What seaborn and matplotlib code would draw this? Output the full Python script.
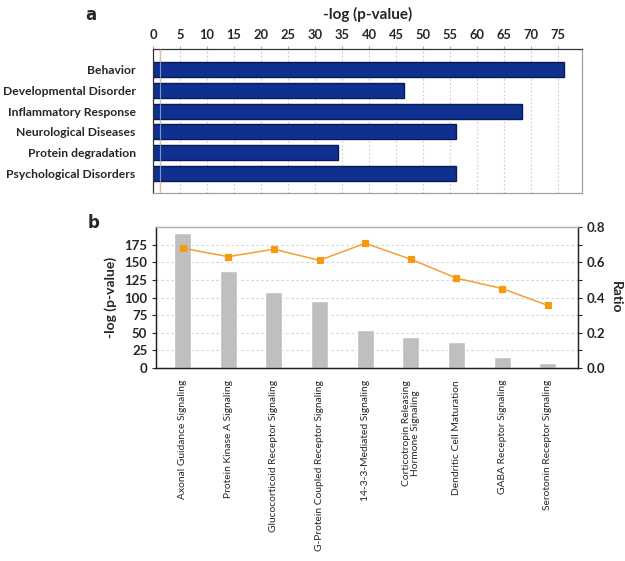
import numpy as np
import pandas as pd
import matplotlib
matplotlib.use("Agg")
import matplotlib.pyplot as plt
from matplotlib.ticker import MultipleLocator, FormatStrFormatter
import seaborn as sns

# painel a: categorias de doenças
disease_cats = ["Behavior", "Developmental Disorder", "Inflammatory Response",
                "Neurological Diseases", "Protein degradation", "Psychological Disorders"]
disease_logp = [76.0, 46.5, 68.3, 56.0, 34.3, 56.0]
threshold = 1.3

# painel b: vias canônicas
pathways = ["Axonal Guidance Signaling", "Protein Kinase A Signaling",
            "Glucocorticoid Receptor Signaling", "G-Protein Coupled Receptor Signaling",
            "14-3-3-Mediated Signaling", "Corticotropin Releasing\nHormone Signaling",
            "Dendritic Cell Maturation", "GABA Receptor Signaling",
            "Serotonin Receptor Signaling"]
pathway_logp = [191, 137.5, 107.5, 95.5, 53.5, 44, 36.5, 15, 7.5]
pathway_ratio = [0.68, 0.632, 0.674, 0.611, 0.708, 0.617, 0.51, 0.451, 0.355]

sns.set_style("white")
plt.rcParams['font.family'] = ['Lato', 'DejaVu Sans']

df_a = pd.DataFrame({"cat": disease_cats, "val": disease_logp})
df_b = pd.DataFrame({"path": pathways, "logp": pathway_logp, "ratio": pathway_ratio})

fig = plt.figure(figsize=(6.25, 5.61), dpi=100)

# ---- painel a ----
ax = fig.add_axes([0.2448, 0.656, 0.6864, 0.2567])
ax.axvline(threshold, color="#f0a040", lw=1, zorder=0)
sns.barplot(data=df_a, x="val", y="cat", orient="h", color="#10308f",
            saturation=1, width=0.72, edgecolor="#091a55", linewidth=1, ax=ax, zorder=2)
ax.axvline(threshold, color="#c8d4ff", lw=0.8, alpha=0.6, zorder=3)
ax.set_xlim(0, 79.4)
ax.set_ylim(5.95, -1.0)
ax.xaxis.set_major_locator(MultipleLocator(5))
ax.xaxis.tick_top()
ax.xaxis.set_label_position("top")
ax.grid(axis="x", color="#cccccc", linestyle=(0, (1.5, 2)), lw=0.8, zorder=0)
ax.set_axisbelow(True)
ax.tick_params(axis="x", top=True, length=2, width=0.6, color="#999999", pad=4,
               labelsize=9.3)
ax.tick_params(axis="y", left=False, labelsize=8.7, pad=9)
for lab in ax.get_xticklabels() + ax.get_yticklabels():
    lab.set_fontweight("bold")
ax.set_ylabel("")
ax.set_xlabel("-log (p-value)", fontsize=11, fontweight="bold", labelpad=7)
for side in ["right", "bottom"]:
    ax.spines[side].set_color("#a0a0a0")
for side in ["top", "left"]:
    ax.spines[side].set_color("#333333")
for s in ax.spines.values():
    s.set_linewidth(0.9)

# ---- painel b ----
axb = fig.add_axes([0.249, 0.344, 0.6757, 0.2513])
sns.barplot(data=df_b, x="path", y="logp", color="#bfbfbf", saturation=1,
            width=0.37, ax=axb, zorder=2)
axb.set_ylim(0, 200)
axb.set_yticks(np.arange(0, 176, 25))
axb.grid(axis="y", color="#d0d0d0", linestyle=(0, (2, 2.5)), lw=0.8, zorder=0)
axb.set_axisbelow(True)

ax2 = axb.twinx()
sns.pointplot(data=df_b, x="path", y="ratio", color="#f5a030", markers="s",
              markersize=5, linewidth=1.1, ax=ax2, zorder=4)
for ln in ax2.lines:
    ln.set_markerfacecolor("#f59a10")
    ln.set_markeredgecolor("#f59a10")
ax2.set_ylim(0, 0.8)
ax2.yaxis.set_major_locator(MultipleLocator(0.2))
ax2.yaxis.set_minor_locator(MultipleLocator(0.1))
ax2.yaxis.set_major_formatter(FormatStrFormatter("%.1f"))
ax2.set_ylabel("Ratio", fontsize=10, fontweight="bold", rotation=270, labelpad=12)
ax2.set_xlabel("")
ax2.tick_params(axis="y", which="both", right=True, length=3, width=0.8,
                labelsize=9.5, pad=3)

axb.set_xlim(-0.59, 8.66)
axb.set_xticks(np.arange(len(pathways)))
axb.set_xticklabels(pathways, rotation=90, fontsize=7.4, va="top", ha="center",
                    linespacing=1.0)
axb.tick_params(axis="x", bottom=False, pad=5)
axb.tick_params(axis="y", left=True, length=3, width=0.8, labelsize=9.5, pad=3)
axb.set_xlabel("")
axb.set_ylabel("-log (p-value)", fontsize=10, fontweight="bold", labelpad=5)
for lab in axb.get_yticklabels() + ax2.get_yticklabels():
    lab.set_fontweight("bold")

for a in (axb, ax2):
    a.spines["top"].set_color("#b0b0b0")
    a.spines["left"].set_color("#222222")
    a.spines["bottom"].set_color("#222222")
    a.spines["right"].set_color("#222222")
    for s in a.spines.values():
        s.set_linewidth(0.9)

fig.text(0.146, 0.973, "a", fontsize=12, fontweight="bold", family="DejaVu Sans",
         ha="center", va="center")
fig.text(0.149, 0.603, "b", fontsize=12, fontweight="bold", family="DejaVu Sans",
         ha="center", va="center")

fig.savefig("out.png", dpi=100)
